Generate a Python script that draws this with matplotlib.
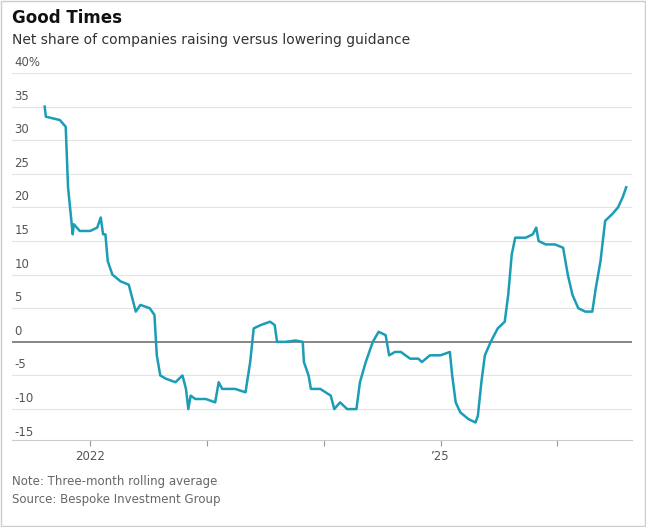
import matplotlib
matplotlib.use("Agg")
import matplotlib.pyplot as plt

years = [2021.61,2021.62,2021.74,2021.79,2021.81,2021.85,2021.86,2021.91,2022.00,2022.06,2022.09,2022.11,2022.13,2022.15,2022.19,2022.26,2022.33,2022.36,2022.39,2022.43,2022.51,2022.55,2022.57,2022.60,2022.65,2022.73,2022.79,2022.82,2022.84,2022.86,2022.90,2022.99,2023.07,2023.10,2023.13,2023.24,2023.33,2023.37,2023.40,2023.46,2023.54,2023.58,2023.60,2023.67,2023.76,2023.82,2023.83,2023.87,2023.89,2023.97,2024.06,2024.09,2024.14,2024.20,2024.28,2024.31,2024.36,2024.42,2024.47,2024.53,2024.56,2024.61,2024.66,2024.74,2024.81,2024.84,2024.91,2025.00,2025.08,2025.10,2025.13,2025.17,2025.24,2025.30,2025.32,2025.35,2025.38,2025.43,2025.49,2025.55,2025.58,2025.61,2025.64,2025.73,2025.79,2025.82,2025.84,2025.90,2025.98,2026.05,2026.09,2026.13,2026.18,2026.24,2026.30,2026.33,2026.37,2026.41,2026.47,2026.52,2026.56,2026.59]
values = [35,33.5,33,32,23,16,17.5,16.5,16.5,17,18.5,16,16,12,10,9,8.5,6.5,4.5,5.5,5,4,-2,-5,-5.5,-6,-5,-7,-10,-8,-8.5,-8.5,-9,-6,-7,-7,-7.5,-3,2,2.5,3,2.5,0,0,0.2,0,-3,-5,-7,-7,-8,-10,-9,-10,-10,-6,-3,0,1.5,1,-2,-1.5,-1.5,-2.5,-2.5,-3,-2,-2,-1.5,-5,-9,-10.5,-11.5,-12,-11,-6,-2,0,2,3,7,13,15.5,15.5,16,17,15,14.5,14.5,14,10,7,5,4.5,4.5,8,12,18,19,20,21.5,23]
ytick_vals = [-15,-10,-5,0,5,10,15,20,25,30,35,40]
ytick_labels = ["-15","-10","-5","0","5","10","15","20","25","30","35","40%"]
xtick_vals = [2022,2023,2024,2025,2026]
xtick_labels = ["2022","","","’25",""]

fig = plt.figure(figsize=(6.46,5.27), dpi=100)
ax = fig.add_axes([12/646, 1-440/527, 620/646, (440-73)/527])
ax.set_xlim(2021.33, 2026.64)
ax.set_ylim(-14.6, 40)
for v, l in zip(ytick_vals, ytick_labels):
    if v != 0:
        ax.axhline(v, color="#e3e3e3", lw=0.8, zorder=0)
    ax.text(2021.35, v+0.6, l, fontsize=8.5, color="#555555", va="bottom", ha="left")
ax.axhline(0, color="#666666", lw=1.1, zorder=1)
ax.plot(years, values, color="#1a9db5", lw=1.8, zorder=3)
ax.set_yticks([])
ax.set_xticks(xtick_vals)
ax.set_xticklabels(xtick_labels, fontsize=8.5, color="#555555")
ax.tick_params(axis="x", length=4, color="#999999")
for s in ["top","right","left"]:
    ax.spines[s].set_visible(False)
ax.spines["bottom"].set_color("#cccccc")
fig.text(12/646, 1-18/527, "Good Times", fontsize=12, fontweight="bold", va="center", color="#111111")
fig.text(12/646, 1-40/527, "Net share of companies raising versus lowering guidance", fontsize=10, va="center", color="#333333")
fig.text(12/646, 1-482/527, "Note: Three-month rolling average", fontsize=8.5, va="center", color="#666666")
fig.text(12/646, 1-500/527, "Source: Bespoke Investment Group", fontsize=8.5, va="center", color="#666666")
fig.patches.append(plt.Rectangle((0.001,0.001),0.998,0.998, transform=fig.transFigure, fill=False, ec="#cccccc", lw=1))
fig.savefig("out.png", dpi=100)
